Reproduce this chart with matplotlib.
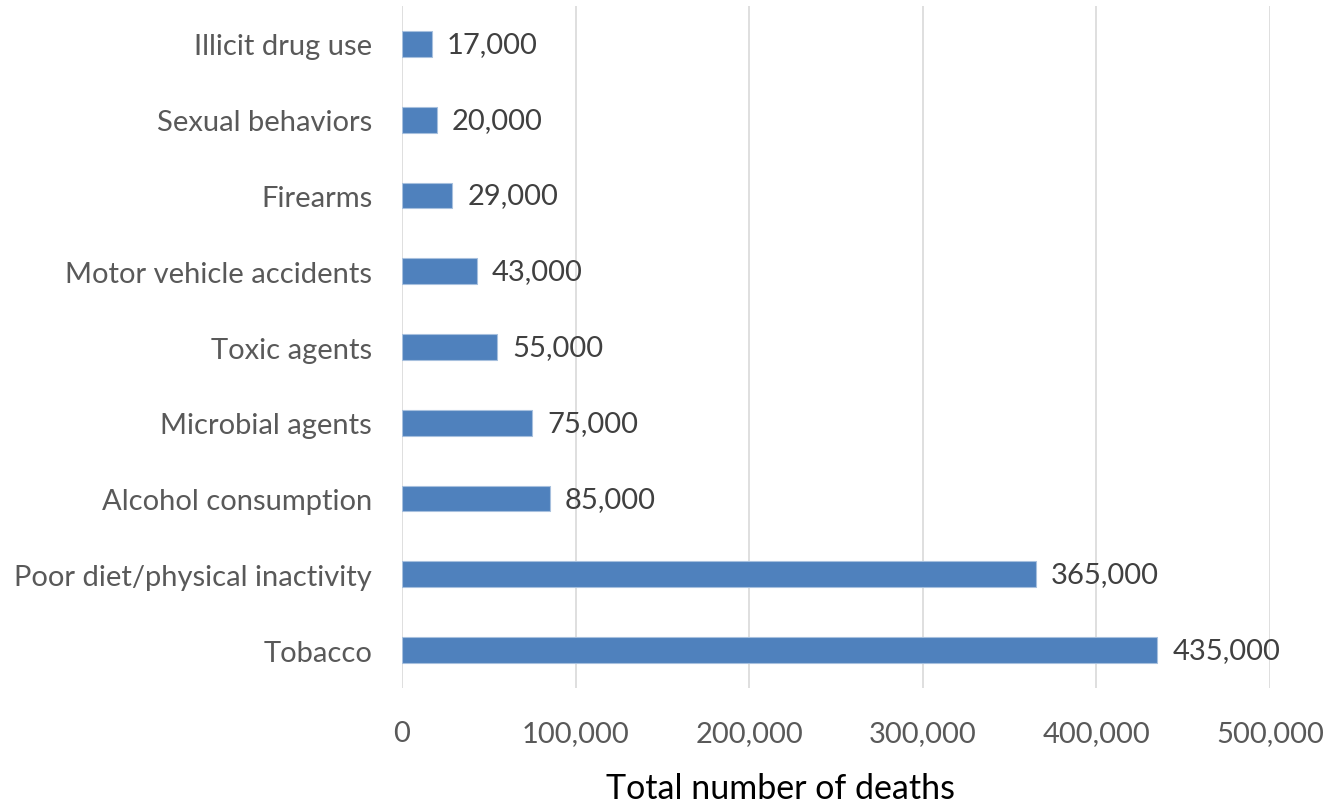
#!/usr/bin/env python3
"""Horizontal bar chart: actual causes of death, total number of deaths."""

import matplotlib.pyplot as plt
from matplotlib.ticker import FuncFormatter

plt.rcParams["font.family"] = ["Lato", "DejaVu Sans"]

causes = [
    "Tobacco",
    "Poor diet/physical inactivity",
    "Alcohol consumption",
    "Microbial agents",
    "Toxic agents",
    "Motor vehicle accidents",
    "Firearms",
    "Sexual behaviors",
    "Illicit drug use",
]
deaths = [435000, 365000, 85000, 75000, 55000, 43000, 29000, 20000, 17000]
x_ticks = [0, 100000, 200000, 300000, 400000, 500000]

BAR_COLOR = "#4f81bd"
GRID_COLOR = "#d9d9d9"
TICK_COLOR = "#595959"
LABEL_COLOR = "#404040"
W, H = 1326, 803

fig = plt.figure(figsize=(W / 100, H / 100), dpi=100)
ax = fig.add_axes([402 / W, 114 / H, 868 / W, 682 / H])

ypos = range(len(causes))
ax.barh(ypos, deaths, height=0.34, color=BAR_COLOR, edgecolor="#a7c0de",
        linewidth=0.8, zorder=3)

for y, v in zip(ypos, deaths):
    ax.annotate(f"{v:,}", xy=(v, y), xytext=(11, 0), textcoords="offset points",
                va="center", ha="left", fontsize=21, color=LABEL_COLOR)

ax.set_xlim(0, 500000)
ax.set_ylim(-0.5, len(causes) - 0.5)
ax.set_xticks(x_ticks)
ax.xaxis.set_major_formatter(FuncFormatter(lambda v, _: f"{int(v):,}"))
ax.set_yticks(list(ypos))
ax.set_yticklabels(causes)

ax.grid(axis="x", color=GRID_COLOR, linewidth=1.2, zorder=0)
for side in ("top", "right", "bottom", "left"):
    ax.spines[side].set_visible(False)
ax.tick_params(axis="both", length=0, labelsize=21, labelcolor=TICK_COLOR)
ax.tick_params(axis="x", pad=23)
ax.tick_params(axis="y", pad=21.5)

# axis title sits a little left of the plot centre
fig.text(781 / W, 4 / H, "Total number of deaths", fontsize=24.5,
         color="black", ha="center", va="baseline")

fig.savefig("out.png", dpi=100)
plt.close(fig)
